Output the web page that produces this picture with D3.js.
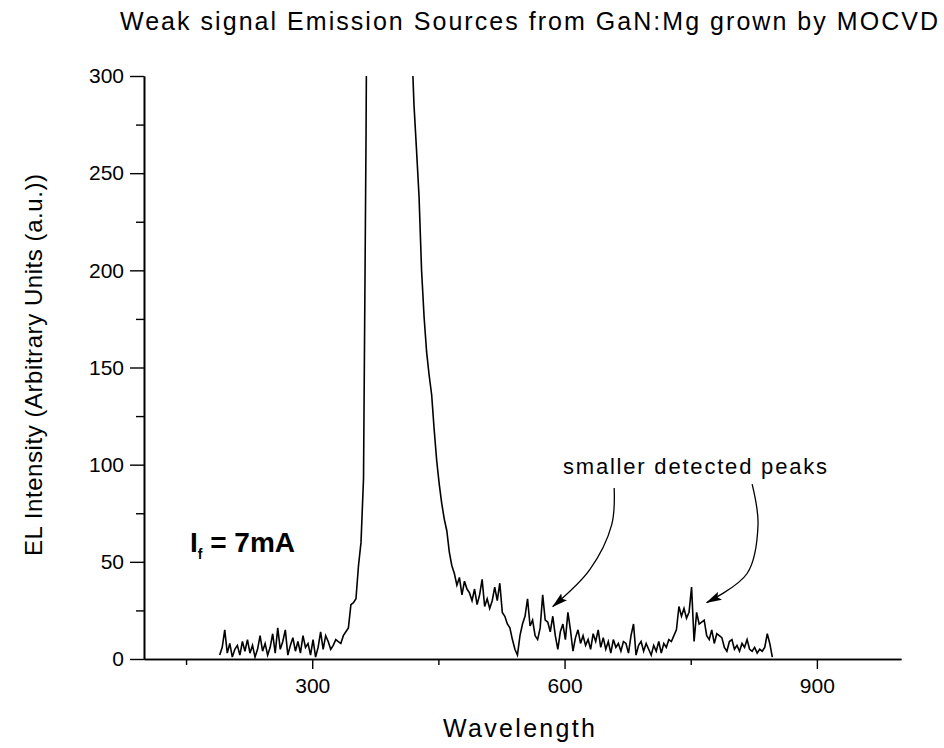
<!DOCTYPE html>
<html>
<head>
<meta charset="utf-8" />
<title>Weak signal Emission Sources from GaN:Mg</title>
<script src="https://cdnjs.cloudflare.com/ajax/libs/d3/7.8.5/d3.min.js"></script>
<style>
  body { margin: 0; background: #fff; }
  text { font-family: Arial, "Liberation Sans", sans-serif; fill: #000; }
</style>
</head>
<body>
<svg id="chart" width="944" height="748"></svg>
<script>
  // EL spectrum, one reading every 3 nm from 190 nm
  const wlStart = 190
  const wlStep = 3
  const intensity = [
    2, 6, 15, 3, 8, 1, 5, 7, 2, 9,
    4, 10, 3, 7, 1, 5, 12, 4, 8, 2,
    6, 13, 3, 16, 5, 9, 15, 2, 7, 11,
    4, 9, 3, 12, 6, 8, 2, 10, 1, 6,
    14, 5, 12, 9, 5, 7, 10, 9, 8, 12,
    14, 16, 28, 29, 31, 48, 60, 93, 270, 520,
    700, 850, 950, 1020, 1060, 1080, 1070, 1040, 1000, 950,
    900, 800, 680, 560, 450, 380, 320, 285, 262, 238,
    200, 176, 158, 146, 136, 118, 102, 90, 80, 72,
    66, 55, 48, 44, 38, 42, 33, 40, 36, 34,
    30, 36, 28, 33, 41, 27, 31, 26, 30, 37,
    30, 39, 24, 22, 18, 16, 10, 5, 2, 12,
    18, 22, 31, 17, 20, 12, 10, 16, 33, 20,
    19, 14, 22, 12, 5, 14, 18, 10, 24, 15,
    4, 11, 15, 8, 12, 7, 10, 5, 13, 9,
    15, 6, 11, 5, 9, 3, 10, 6, 8, 4,
    9, 8, 3, 12, 18, 2, 7, 9, 4, 8,
    5, 2, 7, 4, 9, 3, 8, 6, 10, 9,
    12, 15, 27, 22, 26, 21, 24, 37, 9, 24,
    18, 19, 20, 12, 10, 15, 8, 13, 12, 11,
    6, 4, 9, 10, 5, 7, 4, 8, 6, 10,
    5, 4, 6, 3, 5, 4, 6, 13, 8, 1
  ]
  const xTicks = [300, 600, 900]
  const xMinorTicks = [150, 450, 750]
  const yTicks = [0, 50, 100, 150, 200, 250, 300]
  const yMinorTicks = [25, 75, 125, 175, 225, 275]
  // annotation arrows, in data units (wavelength, intensity)
  const arrowLeft = [[659, 88], [656, 69], [630, 46], [586, 27]]
  const arrowRight = [[823, 90], [830, 69], [817, 44], [769, 29]]

  const spectrum = intensity.map(function(v, i) { return { wl: wlStart + i * wlStep, v: v } })

  let svg = d3.select('#chart')
  let xScale = d3.scaleLinear().domain([100, 1000]).range([144, 901])
  let yScale = d3.scaleLinear().domain([0, 300]).range([659, 76])

  svg.append('defs').append('clipPath').attr('id', 'plotClip')
    .append('rect').attr('x', 144).attr('y', 76).attr('width', 757).attr('height', 586)

  let marker = svg.select('defs').append('marker')
    .attr('id', 'head').attr('viewBox', '0 0 16 9')
    .attr('refX', 15).attr('refY', 4.5)
    .attr('markerWidth', 16).attr('markerHeight', 9)
    .attr('markerUnits', 'userSpaceOnUse')
    .attr('orient', 'auto')
  marker.append('path').attr('d', 'M0,0 L16,4.5 L0,9 L3,4.5 Z').attr('fill', '#000')

  // axes
  let xAxis = d3.axisBottom(xScale).tickValues(xTicks).tickSize(10).tickSizeOuter(0).tickPadding(9)
  svg.append('g').attr('transform', 'translate(0,659)').call(xAxis)
  svg.append('g').attr('transform', 'translate(0,659)')
    .call(d3.axisBottom(xScale).tickValues(xMinorTicks).tickSize(6).tickSizeOuter(0).tickFormat(''))

  let yAxis = d3.axisLeft(yScale).tickValues(yTicks).tickSize(14).tickSizeOuter(0).tickPadding(6)
  svg.append('g').attr('transform', 'translate(144,0)').call(yAxis)
  svg.append('g').attr('transform', 'translate(144,0)')
    .call(d3.axisLeft(yScale).tickValues(yMinorTicks).tickSize(8).tickSizeOuter(0).tickFormat(''))

  svg.selectAll('.domain').attr('stroke', '#000').attr('stroke-width', 1.6)
  svg.selectAll('.tick line').attr('stroke', '#000').attr('stroke-width', 1.4)
  svg.selectAll('.tick text').attr('font-size', 21).attr('font-family', 'Arial, "Liberation Sans", sans-serif').attr('fill', '#000')

  // spectrum
  let line = d3.line()
    .x(function(d) { return xScale(d.wl) })
    .y(function(d) { return yScale(d.v) })
  svg.append('path')
    .attr('clip-path', 'url(#plotClip)')
    .attr('d', line(spectrum))
    .attr('fill', 'none')
    .attr('stroke', '#000')
    .attr('stroke-width', 1.6)

  // titles
  svg.append('text').attr('x', 120).attr('y', 30)
    .attr('font-size', 25).attr('textLength', 818).attr('lengthAdjust', 'spacing')
    .text('Weak signal Emission Sources from GaN:Mg grown by MOCVD')

  svg.append('text').attr('x', 443).attr('y', 737)
    .attr('font-size', 25).attr('textLength', 152).attr('lengthAdjust', 'spacing')
    .text('Wavelength')

  svg.append('text').attr('transform', 'translate(42,556) rotate(-90)')
    .attr('font-size', 24).attr('textLength', 382).attr('lengthAdjust', 'spacing')
    .text('EL Intensity (Arbitrary Units (a.u.))')

  // annotations
  let note = svg.append('text').attr('x', 190).attr('y', 552)
    .attr('font-size', 28).attr('font-weight', 'bold')
  note.append('tspan').text('I')
  note.append('tspan').attr('font-size', 14).attr('dy', 7).text('f')
  note.append('tspan').attr('dy', -7).text(' = 7mA')

  svg.append('text').attr('x', 563).attr('y', 474)
    .attr('font-size', 22).attr('textLength', 264).attr('lengthAdjust', 'spacing')
    .text('smaller detected peaks')

  let arrowLine = d3.line()
    .x(function(d) { return xScale(d[0]) })
    .y(function(d) { return yScale(d[1]) })
    .curve(d3.curveCatmullRom)
  ;[arrowLeft, arrowRight].forEach(function(pts) {
    svg.append('path')
      .attr('d', arrowLine(pts))
      .attr('fill', 'none')
      .attr('stroke', '#000')
      .attr('stroke-width', 1.3)
      .attr('marker-end', 'url(#head)')
  })
</script>
</body>
</html>
